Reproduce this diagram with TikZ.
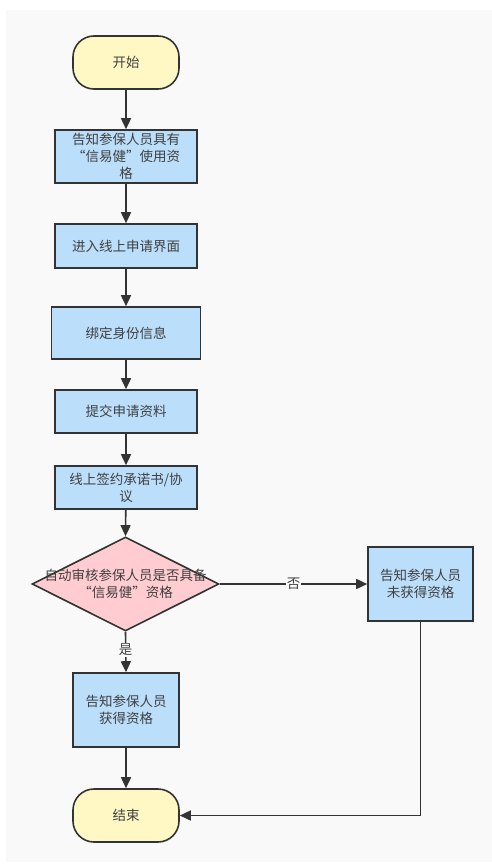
\documentclass[tikz,border=0pt]{standalone}
\usepackage{fontspec}
\setmainfont{Noto Sans CJK SC}
\usetikzlibrary{shapes.geometric,arrows.meta}
\definecolor{bgc}{HTML}{F9F9F9}
\definecolor{linec}{HTML}{333333}
\definecolor{txtc}{HTML}{404040}
\definecolor{termc}{HTML}{FFF8C4}
\definecolor{boxc}{HTML}{BBDEFA}
\definecolor{diac}{HTML}{FFCCD1}
\tikzset{
  base/.style={draw=linec, line width=1.6pt, inner sep=0pt, align=center, text=txtc, font=\fontsize{13.5}{17}\selectfont},
  term/.style={base, fill=termc, rectangle, rounded corners=21pt},
  stepbox/.style={base, fill=boxc, rectangle},
  decbox/.style={base, fill=diac, diamond},
  lbl/.style={inner sep=1pt, fill=bgc, text=txtc, font=\fontsize{13.5}{16}\selectfont},
  arr/.style={draw=linec, line width=1.6pt, -{Triangle[length=11pt,width=10pt]}},
}
\begin{document}
\begin{tikzpicture}[x=1pt,y=-1pt]
\useasboundingbox (0,0) rectangle (492,864);
\fill[white] (0,0) rectangle (492,864);
\fill[bgc] (6,10) rectangle (492,862);
\node[term, minimum width=106, minimum height=53] (start) at (126,62.5) {开始};
\node[stepbox, minimum width=142, minimum height=53] (b1) at (126,156.5) {告知参保人员具有\\“信易健”使用资\\格};
\node[stepbox, minimum width=142, minimum height=44] (b2) at (126,246) {进入线上申请界面};
\node[stepbox, minimum width=149, minimum height=52] (b3) at (126,333) {绑定身份信息};
\node[stepbox, minimum width=142, minimum height=43] (b4) at (126,411.5) {提交申请资料};
\node[stepbox, minimum width=142, minimum height=43] (b5) at (126,487.5) {线上签约承诺书/协\\议};
\node[decbox, minimum width=187, minimum height=94] (d) at (125.5,584) {};
\node[text=txtc, align=center, font=\fontsize{13.5}{17}\selectfont] (dt) at (125.5,584) {自动审核参保人员是否具备\\“信易健”资格};
\node[stepbox, minimum width=105, minimum height=74] (no) at (420.5,584) {告知参保人员\\未获得资格};
\node[stepbox, minimum width=106, minimum height=74] (yes) at (126,710) {告知参保人员\\获得资格};
\node[term, minimum width=106, minimum height=53] (end) at (126,815.5) {结束};
\coordinate (corner) at (no.south |- end.east);
\draw[arr] (start) -- (b1);
\draw[arr] (b1) -- (b2);
\draw[arr] (b2) -- (b3);
\draw[arr] (b3) -- (b4);
\draw[arr] (b4) -- (b5);
\draw[arr] (b5) -- (d.north);
\draw[arr] (d.east) -- node[lbl] {否} (no.west);
\draw[arr] (d.south) -- node[lbl, pos=0.45] {是} (yes.north);
\draw[arr] (yes) -- (end);
\draw[arr] (no.south) -- (corner) -- (end.east);
\end{tikzpicture}
\end{document}
